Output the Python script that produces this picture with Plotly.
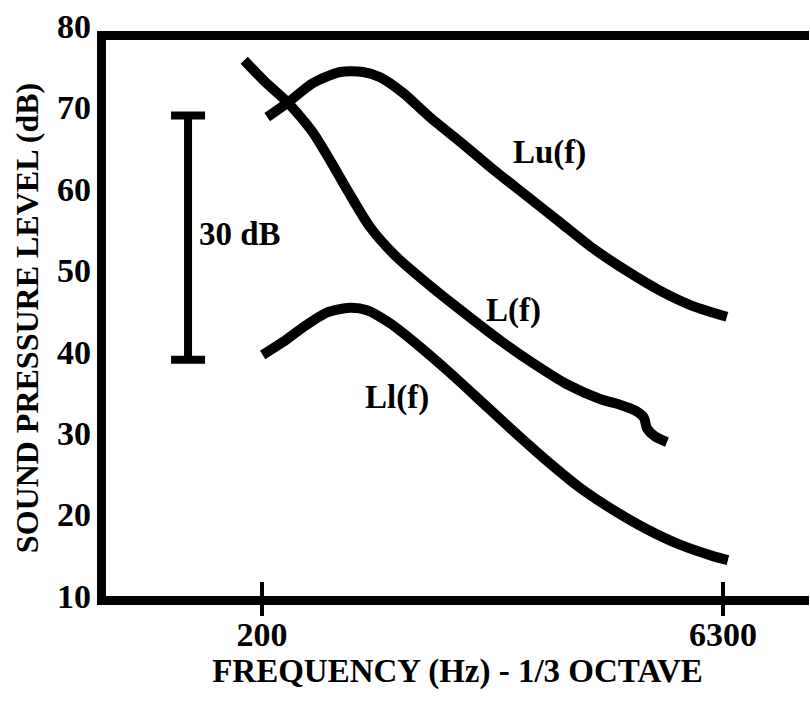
import math
import plotly.graph_objects as go

# ---- data ----
lu_freq = [208, 241, 293, 359, 426, 484, 574, 703, 900, 1127, 1453, 1860, 2381, 3072, 3932, 5032, 6490]
lu_level = [68.8, 70.5, 73.0, 74.35, 74.35, 73.7, 71.8, 68.8, 65.5, 62.4, 59.1, 55.9, 52.7, 49.9, 47.5, 45.6, 44.3]

l_freq = [175, 204, 241, 266, 293, 333, 378, 449, 549, 719, 927, 1187, 1520, 1960, 2510, 2914, 3260, 3487, 3566, 3787, 4143]
l_level = [75.8, 73.2, 70.7, 68.9, 66.9, 63.5, 59.9, 55.3, 51.6, 47.8, 44.5, 41.4, 38.6, 36.0, 34.2, 33.5, 32.8, 31.9, 30.6, 29.6, 28.9]

ll_freq = [201, 234, 272, 325, 386, 439, 521, 638, 817, 1038, 1309, 1688, 2160, 2764, 3566, 4566, 5844, 6538]
ll_level = [39.6, 41.2, 43.0, 44.8, 45.4, 45.1, 43.5, 40.9, 37.4, 33.8, 30.3, 26.6, 23.3, 20.6, 18.2, 16.3, 14.9, 14.4]

curve_labels = ["Lu(f)", "L(f)", "Ll(f)"]
label_freq = [1726, 1318, 549]
label_level = [64.5, 45.0, 34.4]

scale_freq = [115]
scale_center = [54]
scale_half = [15]
scale_text = "30 dB"
scale_text_freq = 170
scale_text_level = 54.5

x_tick_vals = [200, 6300]
x_tick_text = ["200", "6300"]
y_tick_vals = [10, 20, 30, 40, 50, 60, 70, 80]

FONT = "Liberation Serif"
LW = 10

fig = go.Figure()
for fx, fy in [(lu_freq, lu_level), (l_freq, l_level), (ll_freq, ll_level)]:
    fig.add_trace(go.Scatter(x=fx, y=fy, mode="lines",
                             line=dict(color="black", width=LW, shape="spline", smoothing=0.7),
                             showlegend=False, hoverinfo="skip"))

# 30 dB scale bar
fig.add_trace(go.Scatter(x=scale_freq, y=scale_center, mode="markers",
                         marker=dict(size=1, color="black", opacity=0),
                         error_y=dict(type="data", array=scale_half, visible=True,
                                      color="black", thickness=8, width=17),
                         showlegend=False, hoverinfo="skip"))

# helper traces to activate the tick-label axis and the tick-mark axes
fig.add_trace(go.Scatter(x=[], y=[], xaxis="x", yaxis="y2", showlegend=False, hoverinfo="skip"))
fig.add_trace(go.Scatter(x=[], y=[], xaxis="x2", yaxis="y", showlegend=False, hoverinfo="skip"))
fig.add_trace(go.Scatter(x=[], y=[], xaxis="x3", yaxis="y", showlegend=False, hoverinfo="skip"))

# annotations on a log axis take log10 positions
for txt, fx, fy in zip(curve_labels, label_freq, label_level):
    fig.add_annotation(x=math.log10(fx), y=fy, xref="x", yref="y", text=txt, showarrow=False,
                       font=dict(family=FONT, size=33, color="black", weight="bold"))
fig.add_annotation(x=math.log10(scale_text_freq), y=scale_text_level, xref="x", yref="y",
                   text=scale_text, showarrow=False,
                   font=dict(family=FONT, size=33, color="black", weight="bold"))

xr = [1.794, 4.079]
tickaxis = dict(type="log", range=xr, overlaying="x", anchor="y", side="bottom",
                showline=True, linecolor="black", linewidth=9, mirror=False,
                showgrid=False, zeroline=False, automargin=False,
                tickmode="array", tickvals=x_tick_vals, showticklabels=False,
                tickwidth=4, tickcolor="black")
fig.update_layout(
    width=810, height=702,
    margin=dict(l=106, r=1, t=26, b=106, autoexpand=False),
    paper_bgcolor="white", plot_bgcolor="rgba(0,0,0,0)",
    font=dict(family=FONT, color="black"),
    xaxis=dict(type="log", range=xr, domain=[0, 1], anchor="y",
               showline=True, linecolor="black", linewidth=9, mirror=True,
               showgrid=False, zeroline=False, automargin=False,
               tickmode="array", tickvals=x_tick_vals, ticktext=x_tick_text,
               ticks="",
               tickfont=dict(family=FONT, size=34, color="black", weight="bold"),
               title=dict(text="FREQUENCY (Hz) - 1/3 OCTAVE", standoff=0,
                          font=dict(family=FONT, size=33, color="black", weight="bold"))),
    xaxis2=dict(tickaxis, ticks="outside", ticklen=11),
    xaxis3=dict(tickaxis, ticks="inside", ticklen=14),
    yaxis=dict(range=[10, 78.28], domain=[0, 0.97544], anchor="x",
               showline=True, linecolor="black", linewidth=9, mirror=False,
               showgrid=False, zeroline=False, showticklabels=False, ticks="",
               automargin=False,
               title=dict(text="SOUND PRESSURE LEVEL (dB)", standoff=52,
                          font=dict(family=FONT, size=32, color="black", weight="bold"))),
    yaxis2=dict(range=[10, 80], domain=[0, 1], anchor="x", side="left",
                showline=False, showgrid=False, zeroline=False, automargin=False,
                tickmode="array", tickvals=y_tick_vals, ticks="", ticklabelstandoff=14,
                tickfont=dict(family=FONT, size=34, color="black", weight="bold")),
)

fig.write_html("out.html")
